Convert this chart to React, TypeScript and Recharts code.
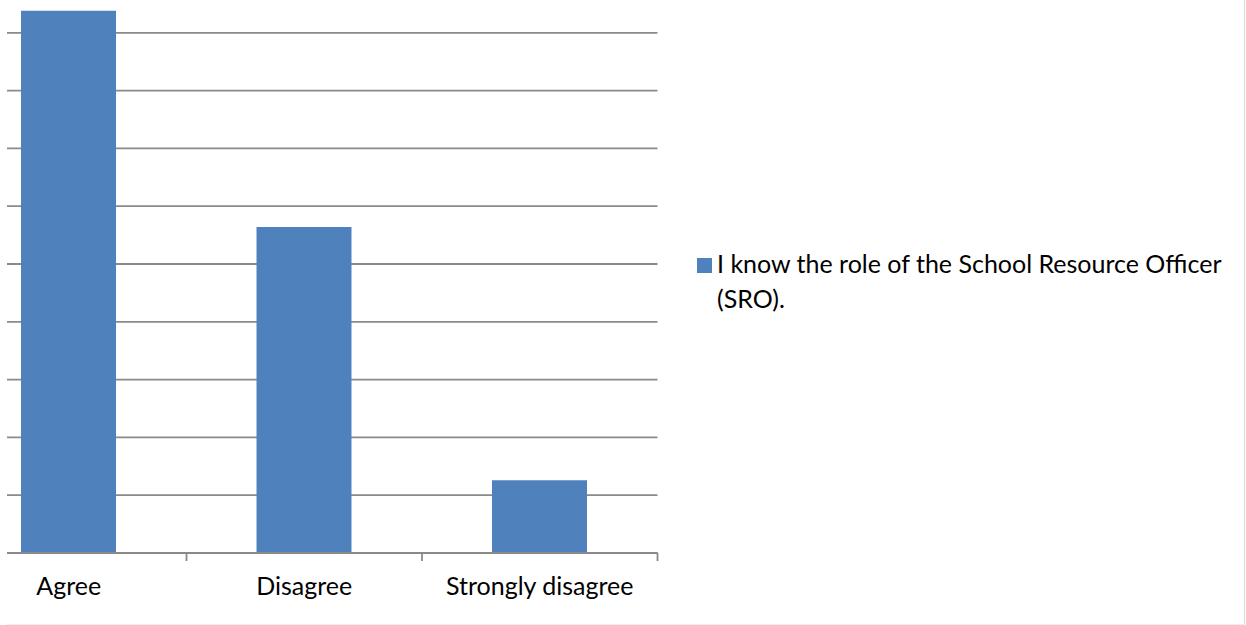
import React from 'react';
import { Bar, BarChart, CartesianGrid, Legend, XAxis, YAxis } from 'recharts';

// Survey answers, one bar per response (reference is an Excel chart cropped on the left/top).
const categories = ['Agree', 'Disagree', 'Strongly disagree'];
const values = [46.9, 28.2, 6.3];
const yTicks = [0, 5, 10, 15, 20, 25, 30, 35, 40, 45, 50];
const seriesName = 'I know the role of the School Resource Officer (SRO).';

const data = categories.map((c, i) => ({ category: c, value: values[i] }));

const FONT = 'Lato, "Open Sans", sans-serif';
const BLUE = '#4f81bd';
const GRID = '#8a8a8a';

const CHART_W = 1320;
const CHART_H = 660;
const PLOT_W = 706.5;
const AXIS_H = 82;
const BAND = PLOT_W / categories.length;

function AxisTick(props: any) {
  const { x, y, payload } = props;
  return (
    <g>
      <text x={x} y={y + 42.3} textAnchor="middle" fontFamily={FONT} fontSize={25} fill="#000">
        {payload.value}
      </text>
      <line x1={x + BAND / 2} x2={x + BAND / 2} y1={y} y2={y + 8} stroke={GRID} strokeWidth={1.8} />
    </g>
  );
}

function LegendBox() {
  return (
    <div style={{ position: 'relative', fontFamily: FONT, fontSize: 25, lineHeight: '35px', color: '#000' }}>
      <div style={{ position: 'absolute', left: 0, top: 12.5, width: 15, height: 15, background: BLUE }} />
      <div style={{ marginLeft: 20, width: 510 }}>{seriesName}</div>
    </div>
  );
}

export default function App() {
  return (
    <div
      style={{
        position: 'fixed',
        left: 7,
        top: 0,
        width: 1237,
        height: 624,
        overflow: 'hidden',
        background: '#fff',
        borderRight: '1px solid #d9d9d9',
        borderBottom: '1px solid #eeeeee',
      }}
    >
      <div style={{ position: 'absolute', left: -56.5, top: -25.3 }}>
        <BarChart
          width={CHART_W}
          height={CHART_H}
          data={data}
          margin={{ top: 0, right: CHART_W - PLOT_W, bottom: 0, left: 0 }}
        >
          <CartesianGrid horizontal vertical={false} stroke={GRID} strokeWidth={1.8} />
          <YAxis hide domain={[0, 50]} ticks={yTicks} />
          <XAxis
            dataKey="category"
            height={AXIS_H}
            tickSize={0}
            tickMargin={0}
            tickLine={false}
            axisLine={{ stroke: GRID, strokeWidth: 1.8 }}
            tick={<AxisTick />}
            interval={0}
          />
          <Legend
            layout="horizontal"
            verticalAlign="middle"
            align="center"
            content={() => <LegendBox />}
            wrapperStyle={{ left: 746.5, top: 270.8, width: 560 }}
          />
          <Bar dataKey="value" name={seriesName} fill={BLUE} barSize={95} isAnimationActive={false} />
        </BarChart>
      </div>
    </div>
  );
}
